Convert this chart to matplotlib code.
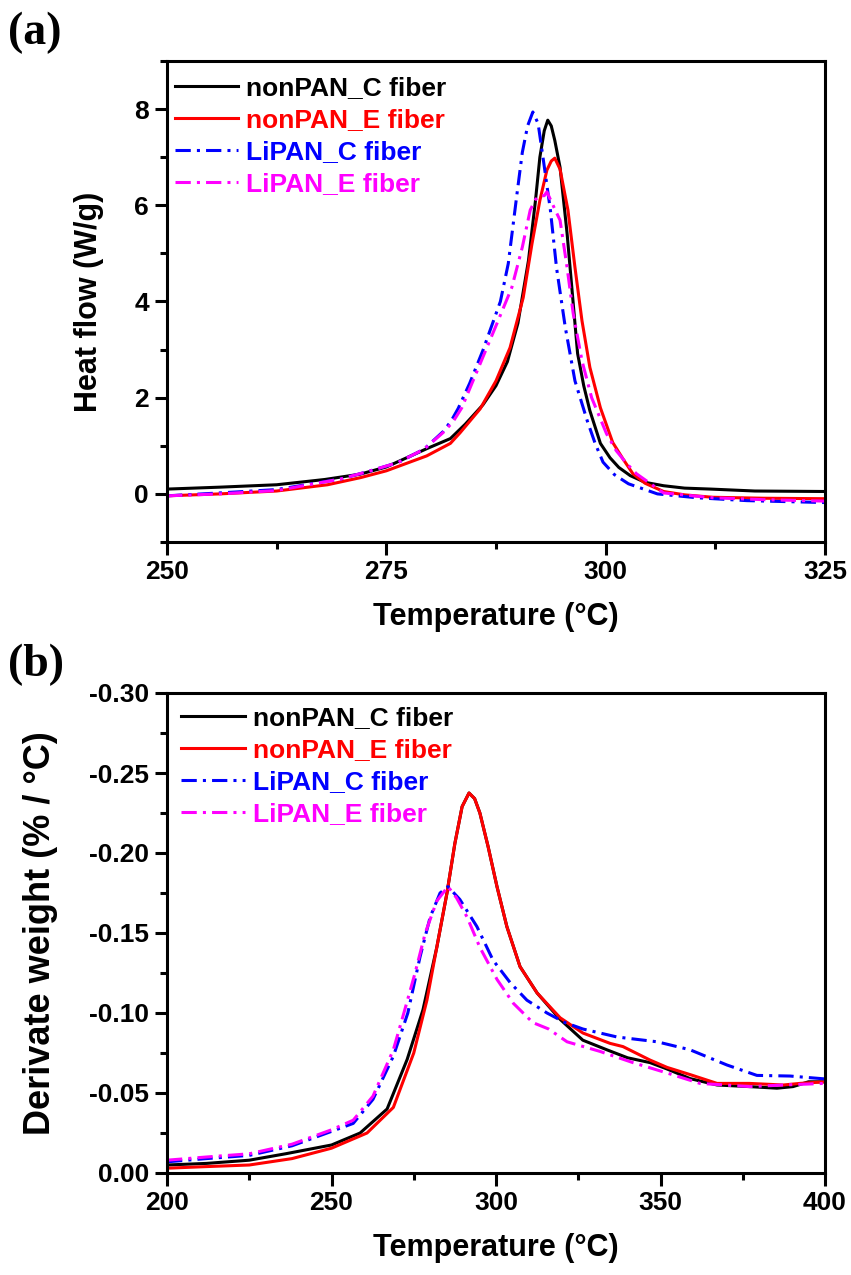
import matplotlib
matplotlib.use("Agg")
import matplotlib.pyplot as plt
from matplotlib.ticker import MultipleLocator, FormatStrFormatter

plt.rcParams['font.family'] = ['Liberation Sans', 'DejaVu Sans']
plt.rcParams['font.weight'] = 'bold'

labels = ["nonPAN_C fiber", "nonPAN_E fiber", "LiPAN_C fiber", "LiPAN_E fiber"]
colors = ["black", "red", "blue", "magenta"]

# ---- Panel (a): DSC heat flow ----
a_T_nonC = [250, 256, 262.5, 268, 272, 275, 279.6, 282.3, 284, 286, 287.5, 288.8, 290.0, 291.2, 292.0, 292.5,
            293.0, 293.4, 293.8, 294.2, 294.8, 295.6, 296.2, 296.8, 297.5, 298.2, 299.4, 300.5, 301.5, 302.8,
            304.5, 306.6, 309, 312, 317, 325]
a_H_nonC = [0.10, 0.14, 0.19, 0.30, 0.41, 0.56, 0.94, 1.15, 1.45, 1.85, 2.25, 2.75, 3.55, 4.85, 6.1, 7.0,
            7.55, 7.77, 7.65, 7.35, 6.79, 5.42, 4.17, 2.92, 2.25, 1.73, 1.05, 0.75, 0.55, 0.38,
            0.24, 0.17, 0.12, 0.10, 0.06, 0.05]

a_T_nonE = [250, 256, 262.5, 268.3, 272.1, 275, 279.6, 282.3, 283.4, 285.7, 287.5, 289.1, 290.6, 291.6, 292.5,
            293.3, 293.8, 294.2, 294.8, 295.7, 296.5, 297.3, 298.2, 299.4, 300.8, 302.0, 303.1, 304.5, 306.6,
            309, 312.2, 318, 325]
a_H_nonE = [-0.04, 0.0, 0.06, 0.19, 0.34, 0.48, 0.79, 1.05, 1.27, 1.77, 2.35, 3.04, 4.08, 5.2, 6.1,
            6.73, 6.92, 6.98, 6.75, 5.9, 4.71, 3.6, 2.63, 1.79, 1.07, 0.72, 0.42, 0.22, 0.05,
            -0.02, -0.07, -0.09, -0.10]

a_T_LiC = [250, 256, 262.5, 269.8, 273.2, 276.3, 279.3, 281.5, 282.4, 283.2, 284.5, 286.0, 288.0, 288.9, 289.9,
           290.5, 291.1, 291.7, 292.3, 292.9, 293.7, 294.4, 295.4, 296.5, 297.9, 298.8, 299.7, 301.0, 302.6,
           305.9, 310.4, 316.1, 325]
a_H_LiC = [-0.04, 0.02, 0.09, 0.31, 0.48, 0.65, 0.93, 1.30, 1.52, 1.78, 2.30, 2.98, 4.0, 4.79, 6.25,
           7.1, 7.65, 7.94, 7.7, 6.94, 5.9, 4.7, 3.46, 2.35, 1.52, 1.05, 0.66, 0.4, 0.21,
           0.0, -0.08, -0.14, -0.18]

a_T_LiE = [250, 256, 262.5, 269.8, 273.2, 276.3, 279.3, 281.5, 282.6, 283.6, 285.7, 287.6, 289.3, 290.5, 291.4,
           292.0, 292.5, 293.0, 293.3, 294.0, 294.8, 295.6, 296.3, 297.3, 298.4, 300.1, 301.2, 302.4, 303.5,
           306.6, 312.2, 318, 325]
a_H_LiE = [-0.04, 0.0, 0.07, 0.31, 0.48, 0.65, 0.93, 1.28, 1.50, 1.79, 2.71, 3.54, 4.29, 5.13, 5.9,
           6.12, 6.2, 6.2, 6.28, 6.0, 5.69, 4.71, 3.75, 2.77, 2.0, 1.25, 0.9, 0.63, 0.42,
           0.02, -0.08, -0.12, -0.15]

# ---- Panel (b): DTG derivative weight ----
b_T_nonC = [200, 212, 225, 236, 250, 258.7, 266.9, 273, 277.8, 282, 285.1, 287.5, 289.7, 291.8, 293.5, 295.1,
            297.6, 300.3, 303.3, 307.3, 312.5, 319.5, 326.4, 333.7, 340, 346.8, 352, 359, 367.2, 377, 385.4,
            390.3, 395, 400]
b_D_nonC = [-0.005, -0.006, -0.008, -0.012, -0.0175, -0.025, -0.040, -0.071, -0.102, -0.141, -0.175, -0.206,
            -0.229, -0.2375, -0.234, -0.225, -0.204, -0.179, -0.154, -0.129, -0.1125, -0.096, -0.083, -0.077,
            -0.072, -0.069, -0.065, -0.059, -0.055, -0.054, -0.053, -0.054, -0.057, -0.057]

b_T_nonE = [200, 212, 225, 238, 250, 260.8, 268.8, 275, 279, 282, 285.1, 287.5, 289.7, 291.8, 293.5, 295.1,
            297.6, 300.3, 303.3, 307.3, 312.5, 319.5, 326.4, 334.7, 338.6, 346.8, 352, 359, 367.2, 377, 387.3,
            392.4, 400]
b_D_nonE = [-0.003, -0.004, -0.005, -0.009, -0.0155, -0.025, -0.041, -0.075, -0.108, -0.141, -0.175, -0.206,
            -0.229, -0.2375, -0.234, -0.225, -0.204, -0.179, -0.154, -0.129, -0.1125, -0.097, -0.0875, -0.081,
            -0.079, -0.0706, -0.066, -0.0615, -0.056, -0.056, -0.055, -0.056, -0.057]

b_T_LiC = [200, 212, 225, 238, 250, 256.6, 262.6, 268.8, 273.2, 276.9, 280, 283, 285.4, 289, 294.2, 299.1,
           304.3, 309.4, 315.5, 321, 326.4, 336.8, 349, 359, 370.2, 379.3, 389.4, 400]
b_D_LiC = [-0.007, -0.009, -0.011, -0.017, -0.026, -0.031, -0.046, -0.073, -0.100, -0.135, -0.160, -0.175,
           -0.179, -0.171, -0.154, -0.133, -0.119, -0.108, -0.100, -0.094, -0.090, -0.085, -0.082, -0.077,
           -0.0675, -0.061, -0.0606, -0.0588]

b_T_LiE = [200, 212, 225, 238, 250, 256.6, 262.6, 268.8, 272, 275.4, 278.5, 282, 285.4, 288, 291.2, 295.1,
           300.3, 305.3, 311.2, 316, 321.6, 331.6, 341.6, 352, 362, 377.2, 387.3, 400]
b_D_LiE = [-0.008, -0.010, -0.012, -0.018, -0.027, -0.033, -0.048, -0.077, -0.100, -0.125, -0.150, -0.170,
           -0.179, -0.172, -0.160, -0.141, -0.121, -0.106, -0.094, -0.090, -0.082, -0.076, -0.069, -0.0625,
           -0.056, -0.054, -0.055, -0.056]

W, H = 851, 1275
fig = plt.figure(figsize=(W / 100, H / 100), dpi=100)

def px_axes(l, t, r, b):
    return fig.add_axes([l / W, 1 - b / H, (r - l) / W, (b - t) / H])

ax1 = px_axes(167, 61, 825, 542)
ax2 = px_axes(167, 693, 825, 1173)

lw = 2.2
dashdot = (0, (5, 2, 1, 2))
styles = ['-', '-', dashdot, dashdot]

for T, Y, c, ls, lab in zip([a_T_nonC, a_T_nonE, a_T_LiC, a_T_LiE],
                            [a_H_nonC, a_H_nonE, a_H_LiC, a_H_LiE], colors, styles, labels):
    ax1.plot(T, Y, color=c, ls=ls, lw=lw, label=lab)

for T, Y, c, ls, lab in zip([b_T_nonC, b_T_nonE, b_T_LiC, b_T_LiE],
                            [b_D_nonC, b_D_nonE, b_D_LiC, b_D_LiE], colors, styles, labels):
    ax2.plot(T, Y, color=c, ls=ls, lw=lw, label=lab)

ax1.set_xlim(250, 325)
ax1.set_ylim(-1, 9)
ax1.xaxis.set_major_locator(MultipleLocator(25))
ax1.xaxis.set_minor_locator(MultipleLocator(12.5))
ax1.yaxis.set_major_locator(MultipleLocator(2))
ax1.yaxis.set_minor_locator(MultipleLocator(1))

ax2.set_xlim(200, 400)
ax2.set_ylim(0, -0.30)
ax2.xaxis.set_major_locator(MultipleLocator(50))
ax2.xaxis.set_minor_locator(MultipleLocator(25))
ax2.yaxis.set_major_locator(MultipleLocator(0.05))
ax2.yaxis.set_minor_locator(MultipleLocator(0.025))
ax2.yaxis.set_major_formatter(FormatStrFormatter('%.2f'))

for ax in (ax1, ax2):
    for s in ax.spines.values():
        s.set_linewidth(2.2)
    ax.tick_params(which='major', direction='out', length=9, width=2.2, labelsize=19, pad=4)
    ax.tick_params(which='minor', direction='out', length=5, width=2.2)
    ax.tick_params(top=False, right=False, which='both')
    for t in ax.get_xticklabels() + ax.get_yticklabels():
        t.set_fontweight('bold')
    ax.set_xlabel('Temperature (°C)', fontsize=22, fontweight='bold', labelpad=13)

ax1.set_ylabel('Heat flow (W/g)', fontsize=22, fontweight='bold', labelpad=22)
ax2.set_ylabel('Derivate weight (% / °C)', fontsize=26, fontweight='bold', labelpad=22)

leg_kw = dict(frameon=False, handlelength=2.4, handletextpad=0.3,
              labelspacing=0.3, borderaxespad=0, borderpad=0, labelcolor='linecolor',
              prop={'weight': 'bold', 'size': 19})
ax1.legend(loc='upper left', bbox_to_anchor=(0.012, 0.968), **leg_kw)
ax2.legend(loc='upper left', bbox_to_anchor=(0.022, 0.972), **leg_kw)

fig.text(8 / W, 1 - 12 / H, '(a)', fontsize=33, fontweight='bold', family='Liberation Serif', va='top', ha='left')
fig.text(8 / W, 1 - 644 / H, '(b)', fontsize=33, fontweight='bold', family='Liberation Serif', va='top', ha='left')

fig.savefig('out.png', dpi=100)
